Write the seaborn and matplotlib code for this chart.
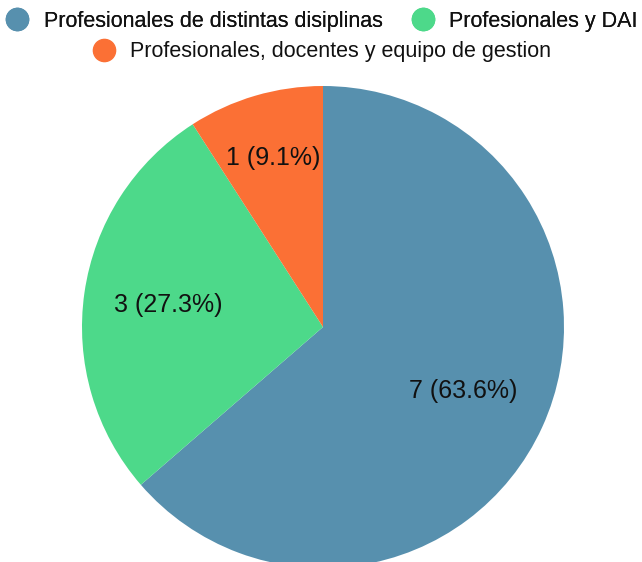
import matplotlib
matplotlib.use("Agg")
import matplotlib.pyplot as plt
from matplotlib.lines import Line2D
import seaborn as sns
import numpy as np

sns.set_theme(style="white")
plt.rcParams['font.family'] = ['Liberation Sans', 'DejaVu Sans']

categories = [
    "Profesionales de distintas disiplinas",
    "Profesionales y DAI",
    "Profesionales, docentes y equipo de gestion",
]
counts = [7, 3, 1]
colors = ["#5790ae", "#4dd98a", "#fb7035"]
label_radius = [0.64, 0.65, 0.73]

W, H = 642, 562
fig = plt.figure(figsize=(W / 100, H / 100), dpi=100)
cx, cy, r = 323, 327, 241
ax = fig.add_axes([(cx - r) / W, (H - cy - r) / H, 2 * r / W, 2 * r / H])

total = sum(counts)
wedges, _ = ax.pie(counts, colors=colors, startangle=90, counterclock=False,
                   radius=1.0, wedgeprops=dict(linewidth=0))
for w, c, rl in zip(wedges, counts, label_radius):
    mid = np.deg2rad((w.theta1 + w.theta2) / 2)
    ax.text(rl * np.cos(mid), rl * np.sin(mid), f"{c} ({c / total * 100:.1f}%)",
            ha="center", va="center", fontsize=18, color="#111111")
ax.set_xlim(-1, 1)
ax.set_ylim(-1, 1)
ax.set_aspect("equal")
ax.axis("off")

def handle(col):
    return Line2D([], [], marker="o", linestyle="none", markersize=16,
                  markerfacecolor=col, markeredgecolor=col)

leg_kw = dict(frameon=False, fontsize=15.5, handletextpad=0.65,
              handlelength=1.2, borderaxespad=0, labelcolor="#111111")
leg1 = fig.legend([handle(colors[0]), handle(colors[1])], categories[:2],
                  loc="center", bbox_to_anchor=(0.5, 1 - 21 / H), ncol=2,
                  columnspacing=1.25, **leg_kw)
fig.add_artist(leg1)
fig.legend([handle(colors[2])], categories[2:], loc="center",
           bbox_to_anchor=(0.5, 1 - 52 / H), **leg_kw)

fig.savefig("out.png", dpi=100)
